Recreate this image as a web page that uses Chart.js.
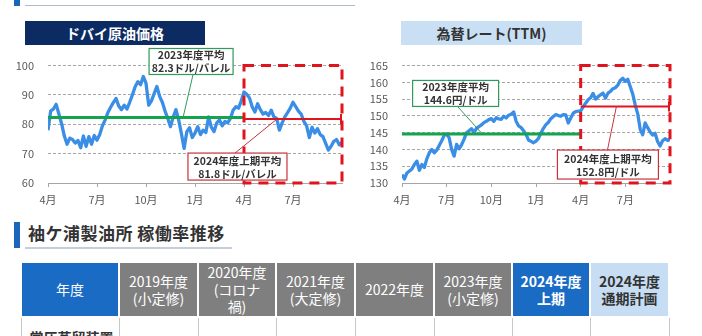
<!DOCTYPE html>
<html lang="ja">
<head>
<meta charset="utf-8">
<script src="https://cdn.jsdelivr.net/npm/chart.js@4.4.1/dist/chart.umd.min.js"></script>
<style>
  html, body { margin: 0; padding: 0; }
  body {
    width: 702px; height: 336px; overflow: hidden; position: relative; background: #fff;
    font-family: "Noto Sans CJK JP", "Noto Sans", sans-serif;
  }
  .abs { position: absolute; }
  #topMark { left: 14px; top: 0; width: 6px; height: 6px; background: #1a66b8; }
  #topRule { left: 25px; top: 5px; width: 330px; height: 1px; background: #aebccb; }

  .panelTitle { top: 21px; height: 24px; line-height: 24px; text-align: center; font-weight: bold; font-size: 14px; }
  #oilTitle { left: 25px; width: 180px; background: #0d2b63; color: #fff; }
  #fxTitle { left: 401px; width: 181px; background: #c9dff4; color: #333; }

  canvas.chart { position: absolute; top: 45px; }
  #oilChart { left: 0; }
  #fxChart { left: 350px; }

  #secBar { left: 14px; top: 222px; width: 6px; height: 26px; background: #1a66b8; }
  #secTitle { left: 28px; top: 221px; font-size: 17px; font-weight: bold; color: #333; line-height: 24px; letter-spacing: 0.5px; }
  #secRule { left: 25px; top: 247px; width: 207px; height: 2px; background: #c5ced8; }

  #rateTable { position: absolute; left: 20px; top: 261px; border-collapse: collapse; table-layout: fixed; }
  #rateTable th {
    height: 53px; padding: 0; border: 2px solid #fff; background: #7f7f7f; color: #fff;
    font-weight: normal; font-size: 14px; line-height: 17px; text-align: center; vertical-align: middle;
  }
  #rateTable th.blue { background: #1a6bc4; }
  #rateTable th.pale { background: #c6ddf3; color: #333; }
  #rateTable th.strong { font-weight: bold; }
  #rateTable td { height: 50px; border: 1px solid #c8c8c8; padding: 0; vertical-align: top; }
  #rateTable td.rowHead { padding: 9px 0 0 8px; font-size: 14px; color: #333; font-weight: bold; }
</style>
</head>
<body>
<div id="topMark" class="abs"></div>
<div id="topRule" class="abs"></div>

<div id="oilTitle" class="abs panelTitle">ドバイ原油価格</div>
<div id="fxTitle" class="abs panelTitle">為替レート(TTM)</div>

<canvas id="oilChart" class="chart" width="350" height="162"></canvas>
<canvas id="fxChart" class="chart" width="330" height="162"></canvas>

<div id="secBar" class="abs"></div>
<div id="secTitle" class="abs">袖ケ浦製油所 稼働率推移</div>
<div id="secRule" class="abs"></div>

<table id="rateTable">
  <colgroup>
    <col style="width:98px"><col style="width:79px"><col style="width:78px"><col style="width:79px">
    <col style="width:79px"><col style="width:78px"><col style="width:78px"><col style="width:79px">
  </colgroup>
  <tr>
    <th class="blue">年度</th>
    <th>2019年度<br>(小定修)</th>
    <th>2020年度<br>(コロナ<br>禍)</th>
    <th>2021年度<br>(大定修)</th>
    <th>2022年度</th>
    <th>2023年度<br>(小定修)</th>
    <th class="blue strong">2024年度<br>上期</th>
    <th class="pale strong">2024年度<br>通期計画</th>
  </tr>
  <tr>
    <td class="rowHead">常圧蒸留装置</td><td></td><td></td><td></td><td></td><td></td><td></td><td></td>
  </tr>
</table>

<script>
// ---- x axis: months counted from April 2023 (0) to end of September 2024 (18)
const monthTicks = [0, 3, 6, 9, 12, 15];
const monthLabels = ['4月', '7月', '10月', '1月', '4月', '7月'];
const pointsPerMonth = 6; // one reading roughly every 5 days

// ---- Dubai crude ($/bbl)
const oilPrices = [
  78.0, 84.6, 85.2, 86.8, 83.5, 80.2,
  76.0, 73.2, 75.3, 74.8, 73.6, 74.5,
  72.0, 76.0, 72.5, 75.8, 73.2, 76.2,
  74.6, 76.5, 79.5, 81.5, 84.0, 85.8,
  87.4, 88.8, 86.2, 85.0, 86.5, 85.2,
  87.5, 90.0, 92.8, 94.5, 93.5, 96.3,
  94.0, 86.5, 88.0, 90.5, 92.9, 89.5,
  87.5, 84.5, 82.0, 79.2, 82.5, 85.0,
  81.5, 76.8, 71.8, 77.5, 78.8, 75.5,
  77.0, 79.2, 76.5, 78.0, 77.2, 82.5,
  79.0, 77.5, 80.5, 81.5, 79.5, 81.0,
  80.5, 82.0, 84.8, 86.0, 85.5, 88.0,
  91.0, 90.2, 89.0, 86.0, 84.2, 87.0,
  85.0, 83.5, 84.0, 83.0, 84.8, 82.5,
  82.0, 78.0, 80.5, 82.5, 84.0, 85.5,
  87.5, 86.0, 84.5, 83.5, 81.0, 79.5,
  75.5, 79.0, 77.0, 78.5, 76.5, 75.8,
  73.5, 71.2, 72.5, 74.2, 74.8, 73.0,
  73.8
];
const oilAvgFY2023 = 82.3;
const oilAvgH1FY2024 = 81.8;

// ---- USD/JPY TTM (yen)
const fxRates = [
  132.5, 131.2, 133.0, 133.6, 134.2, 135.5,
  136.5, 133.8, 135.5, 134.6, 137.2, 139.0,
  140.0, 139.0, 139.8, 141.2, 142.6, 144.2,
  144.6, 143.5, 140.0, 138.0, 141.5, 140.2,
  141.4, 143.0, 145.0, 145.6, 146.2, 145.0,
  146.3, 146.8, 147.3, 148.0, 148.4, 148.9,
  149.2, 148.4, 149.5, 149.1, 149.0, 149.9,
  149.4, 150.2, 150.5, 151.2, 148.4, 147.0,
  146.5, 145.6, 144.5, 142.8, 142.4, 142.0,
  142.5, 143.3, 144.9, 146.3, 147.4, 148.1,
  149.2, 149.8, 150.4, 150.1, 149.9, 150.4,
  150.3, 147.9, 149.4, 150.8, 151.3, 151.4,
  151.5, 152.7, 153.8, 154.8, 155.4, 156.7,
  155.0, 155.7, 156.3, 156.8, 155.3, 156.8,
  157.3, 158.1, 158.4, 159.2, 160.6, 161.2,
  160.3, 160.9, 158.7, 156.5, 153.2, 150.6,
  146.0, 144.4, 147.9, 146.5, 145.2, 144.3,
  144.8, 142.4, 141.0, 142.6, 143.2, 142.7,
  143.0
];
const fxAvgFY2023 = 144.6;
const fxAvgH1FY2024 = 152.8;

const FONT = "'Noto Sans CJK JP', 'Noto Sans', sans-serif";
const BLUE = '#3a8ee6';
const GREEN = '#14a44e';
const RED = '#e0141e';
const GRID = '#a6a6a6';

// red dashed frame around the first half of FY2024, the cap on the red average line, and the callouts
const overlay = {
  id: 'overlay',
  afterDatasetsDraw(chart, args, opts) {
    const { ctx } = chart;
    const xs = chart.scales.x, ys = chart.scales.y;
    const px = m => xs.getPixelForValue(m);
    const py = v => ys.getPixelForValue(v);
    ctx.save();

    const l = px(12), r = px(xs.max);
    ctx.strokeStyle = RED;
    ctx.lineWidth = 3;
    ctx.setLineDash([10, 7]);
    ctx.strokeRect(l, ys.top, r - l, ys.bottom - ys.top);

    ctx.setLineDash([]);
    ctx.lineWidth = 2;
    const yc = py(opts.capValue);
    ctx.beginPath();
    ctx.moveTo(r - 1, yc - 5);
    ctx.lineTo(r - 1, yc + 5);
    ctx.stroke();

    opts.callouts.forEach(c => {
      const cx = px(c.cx), cy = py(c.cy);
      const top = cy - c.h / 2, bottom = cy + c.h / 2;
      ctx.strokeStyle = c.color;
      ctx.lineWidth = 1;
      ctx.beginPath();
      ctx.moveTo(px(c.fromX), c.fromEdge === 'top' ? top : bottom);
      ctx.lineTo(px(c.toX), py(c.toY));
      ctx.stroke();

      ctx.fillStyle = '#fff';
      ctx.fillRect(cx - c.w / 2, top, c.w, c.h);
      ctx.lineWidth = 1.2;
      ctx.strokeRect(cx - c.w / 2, top, c.w, c.h);

      ctx.fillStyle = '#333';
      ctx.font = 'bold 10.5px ' + FONT;
      ctx.textAlign = 'center';
      ctx.textBaseline = 'middle';
      ctx.fillText(c.lines[0], cx, cy - 6);
      ctx.fillText(c.lines[1], cx, cy + 7);
    });
    ctx.restore();
  }
};

function toPoints(values) {
  return values.map((v, i) => ({ x: i / pointsPerMonth, y: v }));
}

function makeChart(id, values, avgPrev, avgH1, y, callouts) {
  return new Chart(document.getElementById(id), {
    type: 'line',
    data: {
      datasets: [
        { data: toPoints(values), borderColor: BLUE, borderWidth: 3.3, pointRadius: 0, tension: 0, borderJoinStyle: 'round', order: 3 },
        { data: [{ x: 0, y: avgPrev }, { x: 12, y: avgPrev }], borderColor: GREEN, borderWidth: 3, pointRadius: 0, order: 2 },
        { data: [{ x: 12, y: avgH1 }, { x: 18, y: avgH1 }], borderColor: RED, borderWidth: 2, pointRadius: 0, order: 1 }
      ]
    },
    options: {
      responsive: false,
      animation: false,
      layout: { padding: { top: 20, left: 8, right: y.rightPad, bottom: 0 } },
      plugins: {
        legend: { display: false },
        tooltip: { enabled: false },
        overlay: { capValue: avgH1, callouts: callouts }
      },
      scales: {
        x: {
          type: 'linear', min: 0, max: 18,
          afterBuildTicks: s => { s.ticks = monthTicks.map(v => ({ value: v })); },
          afterFit: s => { s.height = 24; },
          ticks: {
            callback: (v, i) => monthLabels[i],
            autoSkip: false, maxRotation: 0, padding: 6,
            color: '#595959', font: { size: 11, family: FONT }
          },
          grid: { drawOnChartArea: false, tickLength: 4, color: GRID },
          border: { color: GRID }
        },
        y: {
          min: y.min, max: y.max,
          afterFit: s => { s.width = y.width; },
          ticks: { stepSize: y.step, autoSkip: false, padding: 14, color: '#595959', font: { size: 11, family: FONT } },
          grid: { drawTicks: false, color: c => (c.tick.value === y.min ? 'rgba(0,0,0,0)' : GRID) },
          border: { display: false, dash: [3, 2] }
        }
      }
    },
    plugins: [overlay]
  });
}

makeChart('oilChart', oilPrices, oilAvgFY2023, oilAvgH1FY2024,
  { min: 60, max: 100, step: 10, width: 40, rightPad: 8 },
  [
    { lines: ['2023年度平均', oilAvgFY2023 + 'ドル/バレル'], color: '#2f9a5a',
      cx: 8.76, cy: 101.4, w: 84, h: 26, fromX: 8.88, fromEdge: 'bottom', toX: 8.27, toY: oilAvgFY2023 },
    { lines: ['2024年度上期平均', oilAvgH1FY2024 + 'ドル/バレル'], color: '#c8323c',
      cx: 11.6, cy: 65.6, w: 99, h: 27, fromX: 11.45, fromEdge: 'top', toX: 14.02, toY: oilAvgH1FY2024 }
  ]);

makeChart('fxChart', fxRates, fxAvgFY2023, fxAvgH1FY2024,
  { min: 130, max: 165, step: 5, width: 44, rightPad: 10 },
  [
    { lines: ['2023年度平均', fxAvgFY2023 + '円/ドル'], color: '#2f9a5a',
      cx: 3.6, cy: 156.7, w: 86, h: 26, fromX: 3.73, fromEdge: 'bottom', toX: 5.4, toY: fxAvgFY2023 },
    { lines: ['2024年度上期平均', fxAvgH1FY2024 + '円/ドル'], color: '#c8323c',
      cx: 13.83, cy: 135.5, w: 101, h: 29, fromX: 13.8, fromEdge: 'top', toX: 14.4, toY: fxAvgH1FY2024 }
  ]);
</script>
</body>
</html>
